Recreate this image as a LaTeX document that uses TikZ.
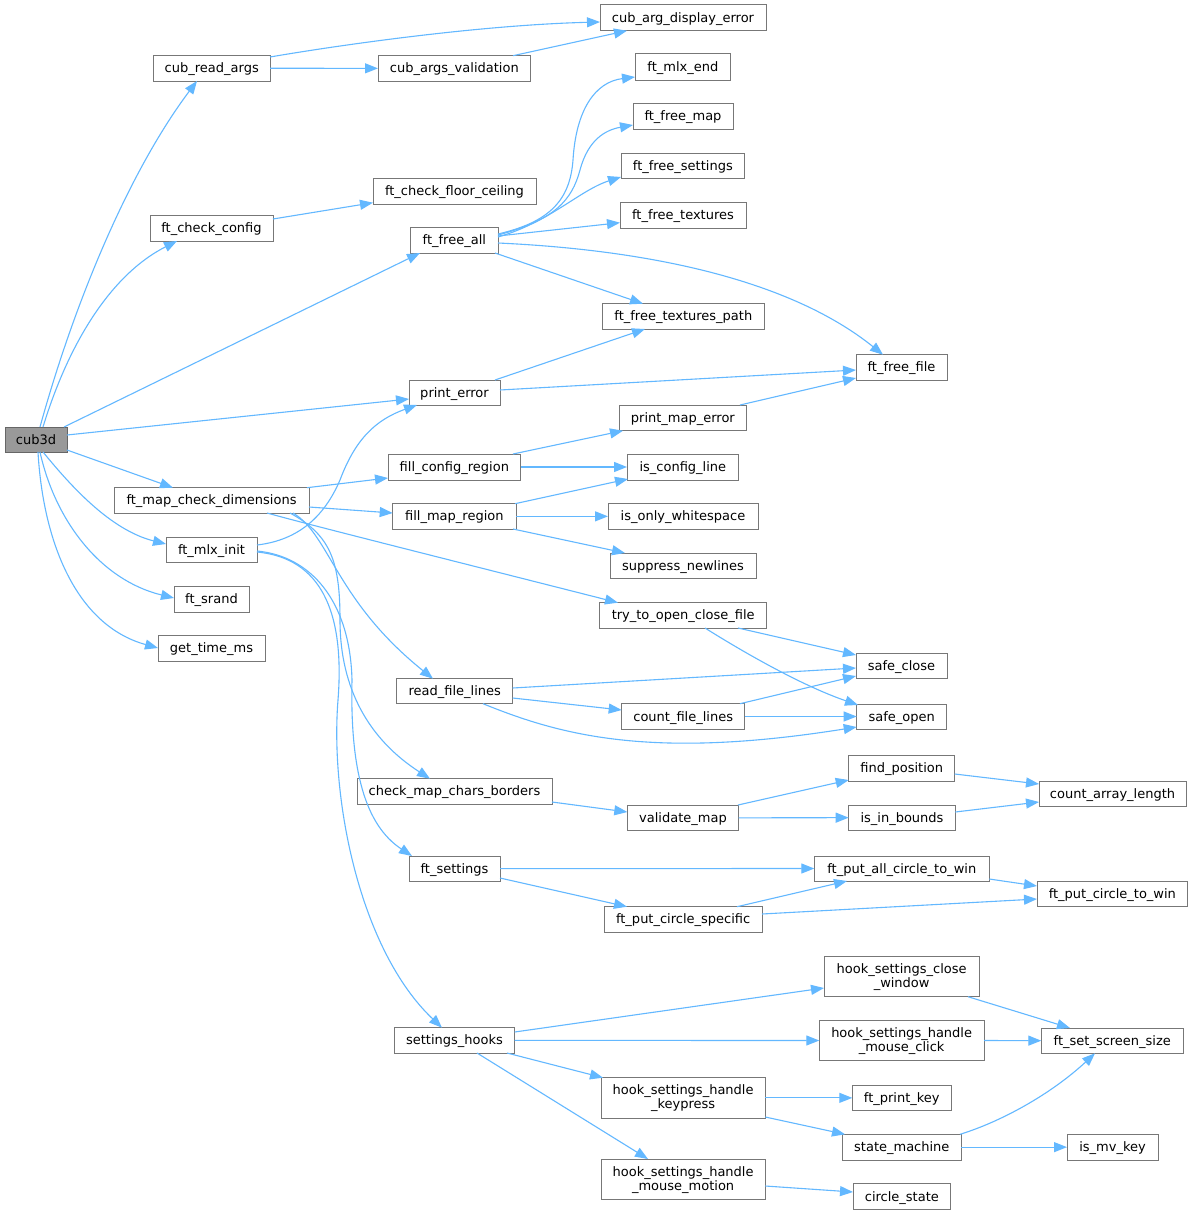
\documentclass[tikz,border=0pt]{standalone}
\usepackage{fontspec}
\setmainfont{DejaVu Sans}
\usetikzlibrary{arrows.meta,calc}
\definecolor{edgec}{HTML}{63B8FF}
\definecolor{boxc}{HTML}{777777}
\definecolor{rootfill}{HTML}{999999}
\definecolor{rootdraw}{HTML}{666666}
\tikzset{
 fn/.style={draw=boxc, line width=1pt, fill=white, inner sep=0pt, outer sep=0pt, font=\fontsize{13}{14}\selectfont, text height=12pt, text depth=3pt, align=center},
 fntwo/.style={text height=25pt, text depth=3pt},
 rootn/.style={fill=rootfill, draw=rootdraw},
 call/.style={draw=edgec, line width=1.1pt, -{Triangle[length=13pt,width=10pt]}},
}
\newcommand\fnode[7][]{\node[fn,#1,minimum width={(#5)-(#3)}, minimum height={(#6)-(#4)}] (#2) at ({((#3)+(#5))/2},{((#4)+(#6))/2}) {#7};}
\begin{document}
\begin{tikzpicture}[x=1pt,y=-1pt]
\useasboundingbox[fill=white] (0,0) rectangle (1193,1215);
% nodes
\fnode[rootn]{c3}{5}{427}{67}{452}{cub3d}
\fnode{cra}{153.5}{55.5}{270}{81}{cub\_read\_args}
\fnode{cav}{378}{55.7}{530.7}{81}{cub\_args\_validation}
\fnode{cade}{600}{5}{766}{30.7}{cub\_arg\_display\_error}
\fnode{fme}{635}{54}{730.7}{80}{ft\_mlx\_end}
\fnode{ffm}{633}{103.7}{733}{129}{ft\_free\_map}
\fnode{ffs}{621}{153}{744.7}{178.7}{ft\_free\_settings}
\fnode{fft}{620}{202}{746}{228}{ft\_free\_textures}
\fnode{fcfc}{373}{178.7}{536}{204}{ft\_check\_floor\_ceiling}
\fnode{fcc}{150}{215.7}{273}{241}{ft\_check\_config}
\fnode{ffa}{410.7}{227.7}{498}{253}{ft\_free\_all}
\fnode{fftp}{602.7}{303.7}{764}{329}{ft\_free\_textures\_path}
\fnode{fff}{856}{354.7}{947}{380}{ft\_free\_file}
\fnode{pe}{409}{380}{500}{405}{print\_error}
\fnode{pme}{619}{405}{746.7}{430.7}{print\_map\_error}
\fnode{fcr}{388}{454}{520.7}{480}{fill\_config\_region}
\fnode{icl}{627}{454}{738.7}{480}{is\_config\_line}
\fnode{fmcd}{114}{487.7}{309}{513}{ft\_map\_check\_dimensions}
\fnode{fmr}{392.7}{503.7}{516}{529}{fill\_map\_region}
\fnode{iow}{608}{503.7}{758}{529}{is\_only\_whitespace}
\fnode{fmi}{166}{537}{257}{562.7}{ft\_mlx\_init}
\fnode{sn}{610}{553}{756}{578.7}{suppress\_newlines}
\fnode{fsr}{174}{586}{249}{612}{ft\_srand}
\fnode{ttocf}{599.7}{602.7}{766.7}{628}{try\_to\_open\_close\_file}
\fnode{gtm}{158}{635.7}{265}{661}{get\_time\_ms}
\fnode{sc}{856}{653}{947}{678.7}{safe\_close}
\fnode{rfl}{396.7}{678.7}{512.7}{703.7}{read\_file\_lines}
\fnode{cfl}{621.7}{703.7}{744.7}{729.3}{count\_file\_lines}
\fnode{so}{856.7}{704}{946.7}{729}{safe\_open}
\fnode{fp}{848.7}{755.7}{954.7}{781}{find\_position}
\fnode{cmcb}{357}{778.7}{552}{804}{check\_map\_chars\_borders}
\fnode{cal}{1039}{781.3}{1186}{806.7}{count\_array\_length}
\fnode{vm}{627.3}{805}{738.7}{830.7}{validate\_map}
\fnode{iib}{848.7}{805}{955.3}{830.3}{is\_in\_bounds}
\fnode{fs}{409}{856}{500}{881.3}{ft\_settings}
\fnode{fpac}{814.3}{856}{989.3}{881}{ft\_put\_all\_circle\_to\_win}
\fnode{fpct}{1037}{881.3}{1187.7}{906.7}{ft\_put\_circle\_to\_win}
\fnode{fpcs}{604.3}{906.7}{762}{932}{ft\_put\_circle\_specific}
\fnode[fntwo]{hscw}{824}{956.3}{979.3}{996.7}{hook\_settings\_close\\\_window}
\fnode{sh}{394.3}{1027.7}{514.7}{1053}{settings\_hooks}
\fnode[fntwo]{hsmc}{819.3}{1020.3}{984}{1060.7}{hook\_settings\_handle\\\_mouse\_click}
\fnode{fsss}{1041.3}{1028}{1183.3}{1053.3}{ft\_set\_screen\_size}
\fnode[fntwo]{hsk}{601}{1077.7}{765.3}{1118}{hook\_settings\_handle\\\_keypress}
\fnode{fpk}{852.3}{1085}{951.3}{1110.7}{ft\_print\_key}
\fnode{sm}{842.3}{1134.3}{961.3}{1160}{state\_machine}
\fnode{imk}{1067}{1134.3}{1158}{1160}{is\_mv\_key}
\fnode[fntwo]{hsmm}{601}{1159}{765.3}{1199}{hook\_settings\_handle\\\_mouse\_motion}
\fnode{cs}{853}{1183.7}{950.7}{1209.3}{circle\_state}
% edges from cub3d
\draw[call] ($(c3.north west)+(35,0)$) .. controls (75,300) and (130,170) .. ($(cra.north west)+(43.5,25.5)$);
\draw[call] ($(c3.north west)+(38,0)$) .. controls (68,345) and (110,275) .. ($(fcc.north west)+(27,25.3)$);
\draw[call] ($(c3.north west)+(59,0)$) -- ($(ffa.north west)+(9.3,25.3)$);
\draw[call] ($(c3.north west)+(62,8)$) -- ($(pe.north west)+(0,19)$);
\draw[call] ($(c3.north west)+(62,23)$) -- ($(fmcd.north west)+(59,0)$);
\draw[call] ($(c3.north west)+(38,25)$) .. controls (70,485) and (110,530) .. ($(fmi.north west)+(0,7)$);
\draw[call] ($(c3.north west)+(35,25)$) .. controls (55,520) and (100,580) .. ($(fsr.north west)+(0,12)$);
\draw[call] ($(c3.north west)+(33,25)$) .. controls (43,540) and (75,625) .. ($(gtm.north west)+(0,12.3)$);
% cub_read_args
\draw[call] ($(cra.north west)+(116.5,1.5)$) .. controls (340,45) and (480,25) .. ($(cade.north west)+(0,17)$);
\draw[call] (cra.east) -- (cav.west);
\draw[call] ($(cav.north west)+(135,0)$) -- ($(cade.north west)+(27,25.7)$);
% ft_check_config
\draw[call] ($(fcc.north west)+(123,3.3)$) -- ($(fcfc.north west)+(0,24)$);
% ft_free_all
\draw[call] ($(ffa.north west)+(87.3,6.3)$) .. controls (550,222) and (570,200) .. (573,160) .. controls (576,110) and (595,82) .. ($(fme.north west)+(0,23)$);
\draw[call] ($(ffa.north west)+(87.3,7.3)$) .. controls (555,220) and (572,200) .. (580,170) .. controls (588,140) and (605,130) .. ($(ffm.north west)+(0,21.3)$);
\draw[call] ($(ffa.north west)+(87.3,9.3)$) .. controls (550,222) and (580,190) .. ($(ffs.north west)+(0,24)$);
\draw[call] ($(ffa.north west)+(87.3,8.3)$) -- ($(fft.north west)+(0,20.7)$);
\draw[call] ($(ffa.north west)+(87.3,15.3)$) .. controls (650,250) and (790,280) .. ($(fff.north west)+(27,0)$);
\draw[call] ($(ffa.north west)+(84.3,25.3)$) -- ($(fftp.north west)+(40.3,0)$);
% print_error
\draw[call] ($(pe.north west)+(86,0)$) -- ($(fftp.north west)+(42.3,25.3)$);
\draw[call] ($(pe.north west)+(91,10)$) -- ($(fff.north west)+(0,15.3)$);
\draw[call] ($(pme.north west)+(121,0)$) -- ($(fff.north west)+(0,23.3)$);
% ft_mlx_init
\draw[call] ($(fmi.north west)+(91,8)$) .. controls (300,540) and (325,515) .. (340,480) .. controls (355,440) and (375,420) .. ($(pe.north west)+(8,25)$);
\draw[call] ($(fmi.north west)+(91,14)$) .. controls (310,556) and (350,600) .. (352,680) .. controls (350,770) and (365,825) .. ($(fs.north west)+(3,0)$);
\draw[call] ($(fmi.north west)+(91,15)$) .. controls (320,558) and (345,610) .. (338,700) .. controls (330,800) and (360,950) .. ($(sh.north west)+(47.7,0)$);
% ft_map_check_dimensions
\draw[call] ($(fmcd.north west)+(193,0)$) -- ($(fcr.north west)+(0,24)$);
\draw[call] ($(fmcd.north west)+(195,19.3)$) -- ($(fmr.north west)+(0,9.3)$);
\draw[call] ($(fmcd.north west)+(153,25.3)$) .. controls (310,525) and (450,560) .. ($(ttocf.north west)+(18.3,0)$);
\draw[call] ($(fmcd.north west)+(179,25.3)$) .. controls (330,535) and (335,600) .. ($(rfl.north west)+(36.3,0)$);
\draw[call] ($(fmcd.north west)+(176,25.3)$) .. controls (330,535) and (340,560) .. (340,620) .. controls (340,690) and (370,740) .. ($(cmcb.north west)+(73,0)$);
% fill regions
\draw[call] ($(fcr.north west)+(125,0)$) -- ($(pme.north west)+(4,25.7)$);
\draw[call] (fcr.east) -- (icl.west);
\draw[call] ($(fmr.north west)+(122.3,0)$) -- ($(icl.north west)+(1,25)$);
\draw[call] (fmr.east) -- (iow.west);
\draw[call] ($(fmr.north west)+(120.3,25.3)$) -- ($(sn.north west)+(15,0)$);
% file
\draw[call] ($(ttocf.north west)+(138.3,25.3)$) -- ($(sc.north west)+(0,2)$);
\draw[call] ($(ttocf.north west)+(105.3,25.3)$) .. controls (740,650) and (800,685) .. ($(so.north west)+(1.3,1)$);
\draw[call] ($(rfl.north west)+(116,9.3)$) -- ($(sc.north west)+(0,15)$);
\draw[call] ($(rfl.north west)+(116,19.3)$) -- ($(cfl.north west)+(0,6.3)$);
\draw[call] ($(rfl.north west)+(86.3,25)$) .. controls (560,735) and (650,760) .. ($(so.north west)+(0,23)$);
\draw[call] ($(cfl.north west)+(118.3,0)$) -- ($(sc.north west)+(0,23)$);
\draw[call] (cfl.east) -- (so.west);
% map checks
\draw[call] ($(cmcb.north west)+(195,23.3)$) -- ($(vm.north west)+(0,7)$);
\draw[call] ($(vm.north west)+(110.7,0)$) -- ($(fp.north west)+(0,24.3)$);
\draw[call] (vm.east) -- (iib.west);
\draw[call] ($(fp.north west)+(106,18.3)$) -- ($(cal.north west)+(0,2.7)$);
\draw[call] ($(iib.north west)+(106.6,7)$) -- ($(cal.north west)+(0,20.7)$);
% settings
\draw[call] (fs.east) -- (fpac.west);
\draw[call] ($(fs.north west)+(91,22)$) -- ($(fpcs.north west)+(22.7,0)$);
\draw[call] ($(fpcs.north west)+(132.7,0)$) -- ($(fpac.north west)+(32.7,25)$);
\draw[call] ($(fpcs.north west)+(157.7,7.3)$) -- ($(fpct.north west)+(0,17.7)$);
\draw[call] ($(fpac.north west)+(175,23)$) -- ($(fpct.north west)+(0,4.7)$);
% hooks
\draw[call] ($(sh.north west)+(120.4,4.3)$) -- ($(hscw.north west)+(0,31.7)$);
\draw[call] (sh.east) -- (hsmc.west);
\draw[call] ($(sh.north west)+(112.7,25.3)$) -- ($(hsk.north west)+(2,0)$);
\draw[call] ($(sh.north west)+(82.7,25.3)$) -- ($(hsmm.north west)+(47,0)$);
\draw[call] ($(hscw.north west)+(144,40.4)$) -- ($(fsss.north west)+(28.7,0)$);
\draw[call] (hsmc.east) -- (fsss.west);
\draw[call] (hsk.east) -- (fpk.west);
\draw[call] ($(hsk.north west)+(164.3,39.3)$) -- ($(sm.north west)+(2.7,0)$);
\draw[call] ($(sm.north west)+(117.7,0)$) .. controls (1000,1122) and (1050,1095) .. ($(fsss.north west)+(53.7,25.3)$);
\draw[call] (sm.east) -- (imk.west);
\draw[call] ($(hsmm.north west)+(164.3,27)$) -- ($(cs.north west)+(0,8.3)$);
\end{tikzpicture}
\end{document}
